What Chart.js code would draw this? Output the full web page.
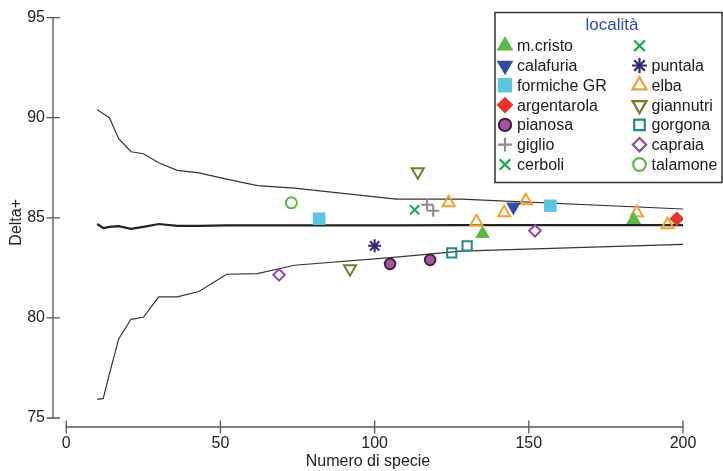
<!DOCTYPE html>
<html>
  <head>
    <title>Delta+ - Numero di specie</title>
    <script src="https://cdn.jsdelivr.net/npm/chart.js"></script>
    <style>
      body {
        margin: 0;
        background: #fff;
      }

      .chart-container {
        width: 723px;
        height: 471px;
      }
    </style>
  </head>
  <body>
    <div class="chart-container">
      <canvas id="myChart"></canvas>
    </div>

    <script>
      // funnel curves (expected Delta+ and limits)
      const curveX = [10, 12, 14, 17, 21, 25, 30, 36, 43, 52, 62, 74, 107, 128, 200];
      const upperY = [90.4, 90.2, 90.0, 88.95, 88.3, 88.2, 87.75, 87.37, 87.24, 86.93, 86.61, 86.48, 85.93, 85.93, 85.44];
      const meanY = [84.69, 84.49, 84.55, 84.58, 84.45, 84.55, 84.69, 84.6, 84.6, 84.62, 84.62, 84.62, 84.62, 84.63, 84.63];
      const lowerY = [75.93, 75.98, 77.2, 78.95, 79.93, 80.03, 81.05, 81.05, 81.32, 82.18, 82.21, 82.63, 83.04, 83.34, 83.67];

      // sites: [numero di specie, Delta+]
      const mCristo = [[135, 84.2], [184, 84.9]];
      const calafuria = [[145, 85.55]];
      const formiche = [[82, 84.95], [157, 85.6]];
      const argentarola = [[198, 84.95]];
      const pianosa = [[105, 82.7], [118, 82.9]];
      const giglio = [[117, 85.65], [119, 85.35]];
      const cerboli = [[113, 85.4]];
      const senzaNome = [];
      const puntala = [[100, 83.6]];
      const elba = [[124, 85.75], [133, 84.8], [142, 85.25], [149, 85.85], [185, 85.25], [195, 84.65]];
      const giannutri = [[92, 82.45], [114, 87.3]];
      const gorgona = [[125, 83.25], [130, 83.6]];
      const capraia = [[69, 82.15], [152, 84.35]];
      const talamone = [[73, 85.75]];

      const xTicks = [0, 50, 100, 150, 200];
      const yTicks = [75, 80, 85, 90, 95];

      function pts(arr) {
        return arr.map(function (p) {
          return { x: p[0], y: p[1] };
        });
      }

      function curve(ys) {
        return curveX.map(function (x, i) {
          return { x: x, y: ys[i] };
        });
      }

      function site(label, arr, style, color, fill, radius, rotation) {
        return {
          type: "scatter",
          label: label,
          data: pts(arr),
          pointStyle: style,
          pointRadius: radius,
          pointHoverRadius: radius,
          pointRotation: rotation || 0,
          pointBorderColor: color,
          pointBackgroundColor: fill,
          pointBorderWidth: 2,
          order: 1,
        };
      }

      function line(ys, width, color) {
        return {
          type: "line",
          label: "_curve",
          data: curve(ys),
          borderColor: color,
          borderWidth: width,
          pointRadius: 0,
          fill: false,
          tension: 0,
          order: 10,
        };
      }

      const clear = "rgba(0,0,0,0)";
      const siteSets = [
        site("m.cristo", mCristo, "triangle", "#5cb947", "#5cb947", 6.5),
        site("calafuria", calafuria, "triangle", "#30509f", "#30509f", 6.5, 180),
        site("formiche GR", formiche, "rect", "#5bc6dc", "#5bc6dc", 7.5),
        site("argentarola", argentarola, "rectRot", "#e8332b", "#e8332b", 6),
        site("pianosa", pianosa, "circle", "#40203f", "#a3559f", 5.3),
        site("giglio", giglio, "cross", "#8c8c8c", clear, 6),
        site("cerboli", cerboli, "crossRot", "#16a84b", clear, 6.5),
        site("", senzaNome, "crossRot", "#16a84b", clear, 6.5),
        site("puntala", puntala, "star", "#2e2a78", clear, 6.5),
        site("elba", elba, "triangle", "#f5a030", clear, 7),
        site("giannutri", giannutri, "triangle", "#7b7a2c", clear, 7, 180),
        site("gorgona", gorgona, "rect", "#1e8a8c", clear, 6.5),
        site("capraia", capraia, "rectRot", "#9342a5", clear, 5.8),
        site("talamone", talamone, "circle", "#5cb947", clear, 5.5),
      ];

      const axesPlugin = {
        id: "axesLines",
        beforeDatasetsDraw(chart) {
          const ctx = chart.ctx;
          const sx = chart.scales.x;
          const sy = chart.scales.y;
          const left = chart.chartArea.left;
          const bottom = chart.chartArea.bottom;
          ctx.save();
          ctx.strokeStyle = "#555";
          ctx.lineWidth = 1.3;
          ctx.beginPath();
          ctx.moveTo(left, sy.getPixelForValue(yTicks[0]));
          ctx.lineTo(left, sy.getPixelForValue(yTicks[yTicks.length - 1]));
          yTicks.forEach(function (v) {
            const p = sy.getPixelForValue(v);
            ctx.moveTo(left - 6.5, p);
            ctx.lineTo(left + 7, p);
          });
          ctx.moveTo(sx.getPixelForValue(xTicks[0]), bottom);
          ctx.lineTo(sx.getPixelForValue(xTicks[xTicks.length - 1]), bottom);
          xTicks.forEach(function (v) {
            const p = sx.getPixelForValue(v);
            ctx.moveTo(p, bottom - 6.5);
            ctx.lineTo(p, bottom + 6.5);
          });
          ctx.stroke();
          ctx.restore();
        },
      };

      const legendPlugin = {
        id: "boxLegend",
        afterDraw(chart) {
          const ctx = chart.ctx;
          const boxL = 495;
          const boxT = 12.5;
          const boxR = chart.width - 1;
          const boxB = 182.5;
          ctx.save();
          ctx.fillStyle = "#fff";
          ctx.fillRect(boxL, boxT, boxR - boxL, boxB - boxT);
          ctx.strokeStyle = "#333";
          ctx.lineWidth = 1.5;
          ctx.strokeRect(boxL, boxT, boxR - boxL, boxB - boxT);

          ctx.font = "17px 'Liberation Sans', Arial, sans-serif";
          ctx.fillStyle = "#2e4bab";
          ctx.textAlign = "center";
          ctx.textBaseline = "middle";
          ctx.fillText("località", 612, 25);

          ctx.font = "16px 'Liberation Sans', Arial, sans-serif";
          ctx.textAlign = "left";
          siteSets.forEach(function (ds, i) {
            const col = i < 7 ? 0 : 1;
            const row = i % 7;
            const cx = col === 0 ? 505 : 639.5;
            const cy = 45.7 + row * 19.8;
            ctx.fillStyle = ds.pointBackgroundColor;
            ctx.strokeStyle = ds.pointBorderColor;
            ctx.lineWidth = 2.2;
            Chart.helpers.drawPoint(
              ctx,
              {
                pointStyle: ds.pointStyle,
                rotation: ds.pointRotation,
                radius: ds.pointRadius * 1.15,
                borderWidth: 2.2,
              },
              cx,
              cy
            );
            ctx.fillStyle = "#1a1a1a";
            ctx.fillText(ds.label, cx + 12, cy + 1);
          });
          ctx.restore();
        },
      };

      Chart.defaults.font.family = "'Liberation Sans', Arial, sans-serif";
      Chart.defaults.font.size = 16;
      Chart.defaults.color = "#222";

      const ctx = document.getElementById("myChart").getContext("2d");
      new Chart(ctx, {
        type: "scatter",
        data: {
          datasets: siteSets.concat([
            line(upperY, 1.2, "#333"),
            line(lowerY, 1.2, "#333"),
            line(meanY, 2.2, "#222"),
          ]),
        },
        options: {
          responsive: true,
          maintainAspectRatio: false,
          animation: false,
          layout: {
            padding: { top: 15, right: 40, left: 0, bottom: 0 },
          },
          plugins: {
            legend: { display: false },
            tooltip: { enabled: false },
          },
          scales: {
            x: {
              type: "linear",
              min: -4.3,
              max: 200,
              grid: { display: false, drawTicks: false },
              border: { display: false },
              afterBuildTicks: function (scale) {
                scale.ticks = xTicks.map(function (v) {
                  return { value: v };
                });
              },
              afterFit: function (scale) {
                scale.height = 44;
              },
              ticks: { padding: 7, maxRotation: 0, color: "#222" },
              title: {
                display: true,
                text: "Numero di specie",
                color: "#222",
                padding: { top: 0, bottom: 0 },
              },
            },
            y: {
              type: "linear",
              min: 74.55,
              max: 95,
              grid: { display: false, drawTicks: false },
              border: { display: false },
              afterBuildTicks: function (scale) {
                scale.ticks = yTicks.map(function (v) {
                  return { value: v };
                });
              },
              afterFit: function (scale) {
                scale.width = 53;
              },
              ticks: { padding: 8, color: "#222" },
              title: {
                display: true,
                text: "Delta+",
                color: "#222",
                padding: { top: 7, bottom: 0 },
              },
            },
          },
        },
        plugins: [axesPlugin, legendPlugin],
      });
    </script>
  </body>
</html>
